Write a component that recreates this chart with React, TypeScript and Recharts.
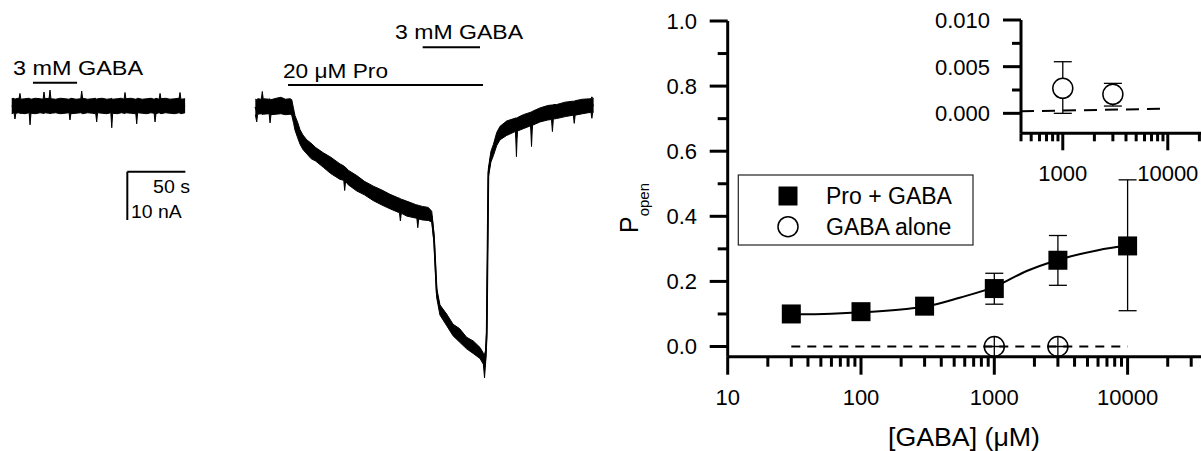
import React from 'react';
import { ComposedChart, Line, Area, Scatter, XAxis, YAxis, ErrorBar, ReferenceLine } from 'recharts';

const FONT = '"Liberation Sans", Arial, Helvetica, sans-serif';

// ---------- Current traces (time in s, current in nA) ----------
const leftTraceTime = [10.1, 12.1, 12.9, 13.7, 16.4, 17.2, 18.0, 21.5, 25.1, 25.9, 26.7, 30.5, 34.5, 37.1, 37.9, 38.7, 42.3, 43.1, 43.9, 48.0, 52.0, 56.0, 59.5, 60.3, 61.1, 65.5, 69.6, 70.4, 71.2, 75.5, 79.5, 82.5, 83.3, 84.1, 88.0, 92.0, 95.5, 96.3, 97.1, 101.0, 104.5, 106.9, 107.7, 108.5, 112.5, 117.0, 117.8, 118.6, 122.5, 126.5, 130.0, 132.8, 133.6, 134.4, 137.1, 137.9, 138.7, 142.5, 146.5, 150.5, 154.3, 155.1, 155.9, 159.5];
const leftTraceLow = [-1.6, -1.4, -2.7, -1.5, -1.4, -1.6, -1.5, -1.6, -1.4, -3.9, -1.5, -1.6, -1.4, -1.5, -1.6, -1.4, -1.5, -1.6, -1.5, -1.4, -1.6, -1.5, -1.4, -2.9, -1.6, -1.5, -1.4, -1.5, -1.6, -1.4, -1.5, -1.6, -3.3, -1.4, -1.5, -1.6, -1.4, -4.5, -1.5, -1.6, -1.4, -1.5, -1.6, -1.4, -1.5, -1.6, -3.7, -1.4, -1.5, -1.6, -1.4, -1.5, -3.3, -1.6, -1.4, -1.5, -1.6, -1.4, -1.5, -1.6, -1.4, -1.5, -1.6, -1.4];
const leftTraceHigh = [1.5, 1.6, 1.4, 1.5, 1.6, 2.6, 1.4, 1.5, 1.6, 1.5, 1.4, 1.6, 1.5, 1.4, 2.9, 1.5, 1.6, 3.3, 1.5, 1.4, 1.6, 1.5, 1.4, 1.5, 1.6, 1.4, 1.5, 3.1, 1.6, 1.4, 1.5, 1.6, 1.4, 1.5, 1.6, 1.4, 1.5, 1.6, 1.4, 1.5, 1.6, 1.4, 2.8, 1.5, 1.6, 1.4, 1.5, 1.6, 1.4, 1.5, 1.6, 1.4, 1.5, 1.6, 1.4, 2.6, 1.5, 1.6, 1.4, 1.5, 1.6, 2.8, 1.4, 1.5];

const rightTraceTime = [220, 221.2, 222, 225.2, 226, 226.8, 231.9, 232.7, 233.5, 238, 242, 246, 250, 251.4, 253, 254.2, 256.5, 258.5, 261, 264.3, 268, 272, 278.6, 285, 293, 296.2, 297, 297.8, 300, 307.4, 314, 321.7, 329, 336.1, 343, 344.2, 345, 345.8, 350.4, 358, 359.2, 360, 360.8, 364, 369, 372, 374, 376.3, 379.1, 384.9, 390.4, 396, 402.1, 408, 413.6, 416.5, 417.5, 418.5, 419.4, 420.8, 423, 425.1, 428, 430.9, 436.6, 443, 444.2, 445, 445.8, 450.9, 457.2, 458, 458.8, 465.3, 472, 475.2, 476, 476.8, 479.7, 487, 494, 494.8, 495.6, 502, 509.2, 510, 510.8, 511.5];
const rightTraceLow = [-1.8, -3.3, -1.7, -1.6, -1.8, -1.7, -1.6, -3.5, -1.8, -1.7, -1.6, -1.8, -1.7, -1.9, -3.6, -5.0, -6.6, -7.9, -9.0, -9.9, -10.9, -11.4, -12.7, -14.0, -15.2, -15.4, -17.5, -15.6, -16.3, -17.6, -18.4, -19.6, -20.5, -21.3, -22.0, -22.1, -23.8, -22.2, -22.8, -23.2, -23.3, -25.2, -23.4, -23.6, -23.7, -24.0, -28.5, -39.7, -43.3, -45.5, -47.6, -48.9, -50.3, -51.3, -52.3, -53.5, -56.3, -53.0, -48.0, -14.8, -11.6, -10.3, -8.2, -7.0, -6.1, -5.4, -5.3, -10.5, -5.2, -4.7, -4.1, -8.4, -4.0, -3.3, -2.9, -2.8, -5.3, -2.7, -2.6, -2.2, -1.9, -3.6, -1.9, -1.6, -1.3, -2.55, -1.2, -1.3];
const rightTraceHigh = [1.4, 1.3, 1.5, 1.4, 3.0, 1.5, 1.4, 1.5, 1.3, 1.6, 1.8, 1.4, 1.5, 1.3, -0.6, -2.0, -3.4, -4.9, -6.0, -7.0, -7.7, -8.6, -9.7, -10.6, -12.0, -12.4, -12.6, -12.7, -13.3, -14.4, -15.6, -16.6, -17.4, -18.3, -19.0, -19.1, -19.2, -19.3, -19.7, -20.4, -20.5, -20.5, -20.6, -20.8, -21.0, -21.8, -26.5, -37.7, -41.2, -43.1, -45.2, -46.1, -47.9, -48.7, -50.0, -51.2, -51.5, -50.5, -46.0, -13.0, -9.4, -8.0, -5.5, -4.2, -3.1, -2.6, -2.5, -2.5, -2.4, -1.8, -1.3, -1.2, -1.1, -0.4, 0.1, 0.2, 0.2, 0.3, 0.3, 0.8, 1.0, 1.0, 1.1, 1.4, 1.5, 1.9, 1.5, 1.6];

// drug application bars [start s, end s, level nA]
const gabaAloneBar = [28.4, 66.4, 4.82];
const proBar = [248.2, 416.2, 4.35];
const gabaWithProBar = [364.2, 413.6, 12.15];
// scale bar: origin (s, nA), 50 s, 10 nA
const scaleBarOrigin = [109.7, -13.61];
const scaleBarTime = 50;
const scaleBarCurrent = 10;

// ---------- Dose response ----------
const gabaConc = [30, 100, 300, 1000, 3000, 10000];
const proGabaMean = [0.1, 0.107, 0.124, 0.178, 0.265, 0.309];
const proGabaLow = [0.094, 0.101, 0.118, 0.13, 0.188, 0.11];
const proGabaHigh = [0.106, 0.113, 0.13, 0.225, 0.341, 0.512];

const fitConc = [30, 60, 100, 200, 300, 550, 1000, 1750, 3000, 6000, 10000];
const fitValue = [0.099, 0.101, 0.105, 0.114, 0.122, 0.15, 0.183, 0.232, 0.266, 0.296, 0.311];

const gabaAloneConc = [1000, 3000];
const gabaAloneMain = [0, 0];
const baselineConc = [30, 10000];
const baselineValue = [0, 0];

const insetMean = [0.00268, 0.00204];
const insetLow = [0.0, 0.00078];
const insetHigh = [0.00553, 0.00321];
const insetBaseConc = [400, 10000];
const insetBaseValue = [0.00022, 0.0005];

const mainMajorX = [10, 100, 1000, 10000];
const mainMinorX = [20, 30, 40, 50, 60, 70, 80, 90, 200, 300, 400, 500, 600, 700, 800, 900, 2000, 3000, 4000, 5000, 6000, 7000, 8000, 9000, 20000, 30000];
const mainMajorY = [0, 0.2, 0.4, 0.6, 0.8, 1.0];
const mainMinorY = [0.1, 0.3, 0.5, 0.7, 0.9];
const insetMajorX = [1000, 10000];
const insetMinorX = [400, 500, 600, 700, 800, 900, 2000, 3000, 4000, 5000, 6000, 7000, 8000, 9000, 20000];
const insetMajorY = [0, 0.005, 0.01];
const insetMinorY = [0.0025, 0.0075];

// ---------- derived tables ----------
const traceData = [
  ...leftTraceTime.map((t, i) => ({ t, a: [leftTraceLow[i], leftTraceHigh[i]], am: (leftTraceLow[i] + leftTraceHigh[i]) / 2 })),
  ...rightTraceTime.map((t, i) => ({ t, b: [rightTraceLow[i], rightTraceHigh[i]], bm: (rightTraceLow[i] + rightTraceHigh[i]) / 2 })),
];
const proData = gabaConc.map((x, i) => ({ x, y: proGabaMean[i], err: [proGabaMean[i] - proGabaLow[i], proGabaHigh[i] - proGabaMean[i]] }));
const fitData = fitConc.map((x, i) => ({ x, y: fitValue[i] }));
const aloneMainData = gabaAloneConc.map((x, i) => ({ x, y: gabaAloneMain[i] }));
const baseData = baselineConc.map((x, i) => ({ x, y: baselineValue[i] }));
const insetData = gabaAloneConc.map((x, i) => ({ x, y: insetMean[i], err: [insetMean[i] - insetLow[i], insetHigh[i] - insetMean[i]] }));
const insetBaseData = insetBaseConc.map((x, i) => ({ x, y: insetBaseValue[i] }));

const axisLine = { stroke: '#000', strokeWidth: 3 };
const TICK_W = 3;

const xTick = (majors: number[], majorLen: number, minorLen: number, labelOffset: number) => (p: any) => {
  const v = p.payload.value;
  const major = majors.includes(v);
  return (
    <g>
      <line x1={p.x} y1={p.y} x2={p.x} y2={p.y + (major ? majorLen : minorLen)} stroke="#000" strokeWidth={TICK_W} />
      {major && (
        <text x={p.x} y={p.y + labelOffset} textAnchor="middle" fontSize={22} fontFamily={FONT} fill="#000">{String(v)}</text>
      )}
    </g>
  );
};
const yTick = (majors: number[], majorLen: number, minorLen: number, labelOffset: number, digits: number) => (p: any) => {
  const v = p.payload.value;
  const major = majors.some((m) => Math.abs(m - v) < 1e-9);
  return (
    <g>
      <line x1={p.x} y1={p.y} x2={p.x - (major ? majorLen : minorLen)} y2={p.y} stroke="#000" strokeWidth={TICK_W} />
      {major && (
        <text x={p.x - labelOffset} y={p.y + 7.9} textAnchor="end" fontSize={22} fontFamily={FONT} fill="#000">{v.toFixed(digits)}</text>
      )}
    </g>
  );
};

const Square = (p: any) => <rect x={p.cx - 9.5} y={p.cy - 9.5} width={19} height={19} fill="#000" />;
const CrossCircle = (p: any) => (
  <g>
    <circle cx={p.cx} cy={p.cy} r={10} fill="none" stroke="#000" strokeWidth={1.5} />
    <line x1={p.cx} y1={p.cy - 10} x2={p.cx} y2={p.cy + 10} stroke="#000" strokeWidth={1.3} />
    <line x1={p.cx - 10} y1={p.cy} x2={p.cx + 10} y2={p.cy} stroke="#000" strokeWidth={1.3} />
  </g>
);
const OpenCircle = (p: any) => <circle cx={p.cx} cy={p.cy} r={10} fill="#fff" stroke="#000" strokeWidth={1.5} />;

const T = ({ x, y, size, len, anchor = 'start', children }: any) => (
  <text x={x} y={y} fontSize={size} fontFamily={FONT} fill="#000" textAnchor={anchor}
    textLength={len} lengthAdjust={len ? 'spacingAndGlyphs' : undefined}>{children}</text>
);

const seg = (x1: number, y1: number, x2: number, y2: number) => [{ x: x1, y: y1 }, { x: x2, y: y2 }];

export default function App() {
  return (
    <div style={{ position: 'absolute', left: 0, top: 0, width: 1201, height: 451, background: '#fff', fontFamily: FONT }}>
      {/* Current traces */}
      <div style={{ position: 'absolute', left: 0, top: 0 }}>
        <ComposedChart width={600} height={451} data={traceData} margin={{ top: 0, right: 0, bottom: 0, left: 0 }}>
          <XAxis dataKey="t" type="number" domain={[0, 517]} hide allowDataOverflow />
          <YAxis type="number" domain={[-71.45, 21.95]} hide allowDataOverflow />
          <Area dataKey="a" type="linear" stroke="#000" strokeWidth={1} fill="#000" fillOpacity={1} isAnimationActive={false} dot={false} activeDot={false} />
          <Area dataKey="b" type="linear" stroke="#000" strokeWidth={1} fill="#000" fillOpacity={1} isAnimationActive={false} dot={false} activeDot={false} />
          <Line dataKey="am" type="linear" stroke="#000" strokeWidth={1.5} dot={false} activeDot={false} isAnimationActive={false} />
          <Line dataKey="bm" type="linear" stroke="#000" strokeWidth={1.8} dot={false} activeDot={false} isAnimationActive={false} />
          <ReferenceLine segment={seg(gabaAloneBar[0], gabaAloneBar[2], gabaAloneBar[1], gabaAloneBar[2])} stroke="#000" strokeWidth={2} ifOverflow="visible" />
          <ReferenceLine segment={seg(proBar[0], proBar[2], proBar[1], proBar[2])} stroke="#000" strokeWidth={2} ifOverflow="visible" />
          <ReferenceLine segment={seg(gabaWithProBar[0], gabaWithProBar[2], gabaWithProBar[1], gabaWithProBar[2])} stroke="#000" strokeWidth={2} ifOverflow="visible" />
          <ReferenceLine segment={seg(scaleBarOrigin[0], scaleBarOrigin[1], scaleBarOrigin[0] + scaleBarTime, scaleBarOrigin[1])} stroke="#000" strokeWidth={2} ifOverflow="visible" />
          <ReferenceLine segment={seg(scaleBarOrigin[0], scaleBarOrigin[1], scaleBarOrigin[0], scaleBarOrigin[1] - scaleBarCurrent)} stroke="#000" strokeWidth={2} ifOverflow="visible" />
        </ComposedChart>
      </div>

      {/* Dose-response main */}
      <div style={{ position: 'absolute', left: 600, top: 0 }}>
        <ComposedChart width={601} height={451} margin={{ top: 21, right: 0, bottom: 93.3, left: 126.7 }}>
          <XAxis xAxisId="x" dataKey="x" type="number" scale="log" domain={[10, 35530]} allowDataOverflow ticks={[...mainMajorX, ...mainMinorX]}
            tick={xTick(mainMajorX, 18, 10, 48)} tickSize={0} tickMargin={0} height={1} axisLine={axisLine} tickLine={false} interval={0} />
          <YAxis yAxisId="y" type="number" domain={[-0.0313, 1]} allowDataOverflow ticks={[...mainMajorY, ...mainMinorY]}
            tick={yTick(mainMajorY, 18, 10, 30.7, 1)} tickSize={0} tickMargin={0} width={1} axisLine={axisLine} tickLine={false} interval={0} />
          <Line xAxisId="x" yAxisId="y" data={baseData} dataKey="y" type="linear" stroke="#000" strokeWidth={2} strokeDasharray="9 7" dot={false} activeDot={false} isAnimationActive={false} />
          <Line xAxisId="x" yAxisId="y" data={fitData} dataKey="y" type="monotone" stroke="#000" strokeWidth={2} dot={false} activeDot={false} isAnimationActive={false} />
          <Scatter xAxisId="x" yAxisId="y" data={proData} dataKey="y" shape={Square} isAnimationActive={false}>
            <ErrorBar dataKey="err" direction="y" width={9} stroke="#000" strokeWidth={1.3} />
          </Scatter>
          <Scatter xAxisId="x" yAxisId="y" data={aloneMainData} dataKey="y" shape={CrossCircle} isAnimationActive={false} />
        </ComposedChart>
      </div>

      {/* Inset */}
      <div style={{ position: 'absolute', left: 900, top: 0 }}>
        <ComposedChart width={301} height={200} margin={{ top: 20, right: 0, bottom: 65.7, left: 120 }}>
          <XAxis xAxisId="x" dataKey="x" type="number" scale="log" domain={[400, 20720]} allowDataOverflow ticks={[...insetMajorX, ...insetMinorX]}
            tick={xTick(insetMajorX, 17, 8, 48)} tickSize={0} tickMargin={0} height={1} axisLine={axisLine} tickLine={false} interval={0} />
          <YAxis yAxisId="y" type="number" domain={[-0.00214, 0.01]} allowDataOverflow ticks={[...insetMajorY, ...insetMinorY]}
            tick={yTick(insetMajorY, 18, 9, 31, 3)} tickSize={0} tickMargin={0} width={1} axisLine={axisLine} tickLine={false} interval={0} />
          <Line xAxisId="x" yAxisId="y" data={insetBaseData} dataKey="y" type="linear" stroke="#000" strokeWidth={2} strokeDasharray="13 8" dot={false} activeDot={false} isAnimationActive={false} />
          <Scatter xAxisId="x" yAxisId="y" data={insetData} dataKey="y" shape={OpenCircle} isAnimationActive={false}>
            <ErrorBar dataKey="err" direction="y" width={9} stroke="#000" strokeWidth={1.3} />
          </Scatter>
        </ComposedChart>
      </div>

      {/* Text annotations, axis titles and legend */}
      <svg width={1201} height={451} style={{ position: 'absolute', left: 0, top: 0, pointerEvents: 'none' }}>
        <T x={13} y={75} size={20} len={130}>3 mM GABA</T>
        <T x={283} y={77.5} size={20} len={105}>20 μM Pro</T>
        <T x={395} y={39} size={20} len={128}>3 mM GABA</T>
        <T x={153} y={192.7} size={19} len={37}>50 s</T>
        <T x={131} y={218.3} size={19} len={50.7}>10 nA</T>
        <T x={888} y={446} size={25} len={152}>[GABA] (μM)</T>
        <text transform="translate(638,233) rotate(-90)" fontFamily={FONT} fontSize={25} fill="#000">
          P<tspan dy={11} fontSize={15}>open</tspan>
        </text>
        <rect x={738.3} y={175} width={234.7} height={70} fill="#fff" stroke="#222" strokeWidth={1.2} />
        <rect x={778.5} y={186.5} width={19} height={19} fill="#000" />
        <circle cx={788} cy={226.7} r={10} fill="none" stroke="#000" strokeWidth={1.5} />
        <T x={826} y={204} size={23}>Pro + GABA</T>
        <T x={826} y={235} size={23}>GABA alone</T>
      </svg>
    </div>
  );
}
